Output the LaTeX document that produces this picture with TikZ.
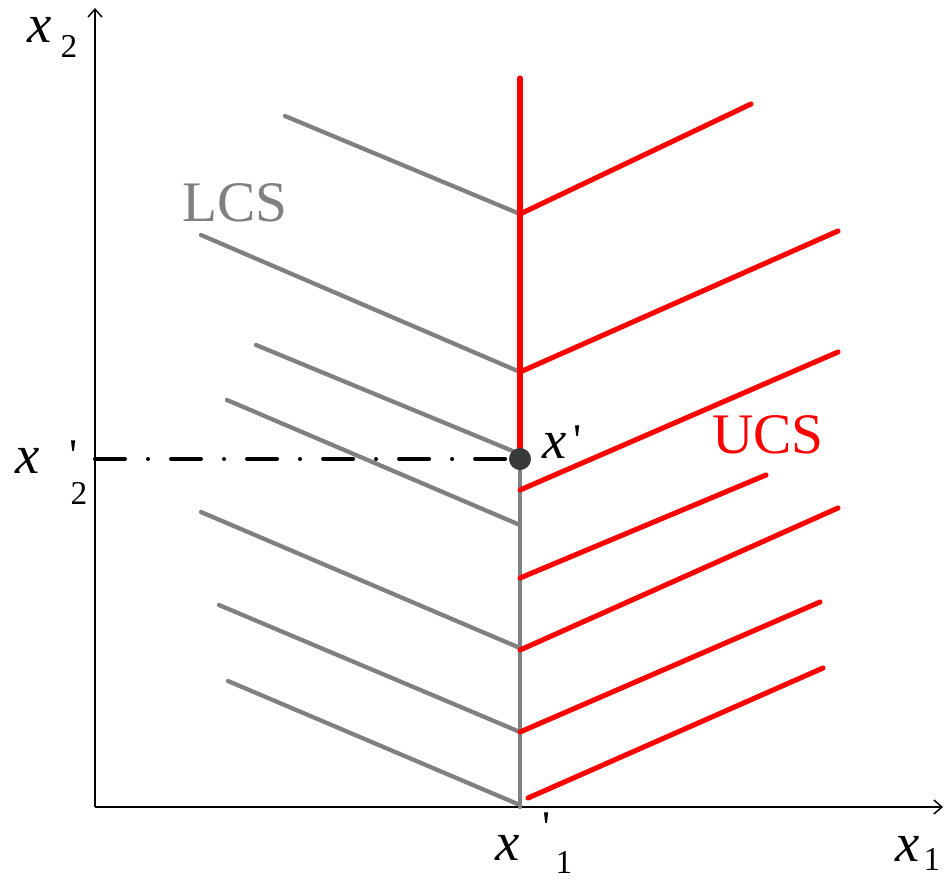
\documentclass[tikz,border=0pt]{standalone}
\usepackage{fontspec}
\setmainfont{Liberation Serif}[Ligatures=TeXOff]
\newfontfamily\pf{Liberation Serif}[Ligatures=TeXOff]
\usetikzlibrary{arrows.meta}
\definecolor{lgray}{RGB}{128,128,128}
\definecolor{dotc}{RGB}{58,58,58}
\tikzset{
  axis/.style={line width=1.1pt, -{Straight Barb[length=6pt,width=10.5pt,line width=1.1pt]}},
  lcs/.style={lgray, line width=3.2pt, line cap=round},
  ucs/.style={red, line width=3.8pt, line cap=round},
  varx/.style={inner sep=0pt, font=\fontsize{41}{41}\selectfont\itshape},
  sub/.style={inner sep=0pt, font=\fontsize{25}{25}\selectfont},
  prm/.style={inner sep=0pt, font=\fontsize{34}{34}\pf\selectfont},
  lbl/.style={inner sep=0pt, font=\fontsize{43}{43}\selectfont},
}
\begin{document}
\begin{tikzpicture}[x=0.75pt,y=-0.75pt]
\useasboundingbox (0,0) rectangle (944,879);
% axes
\coordinate (O) at (95,807);
\coordinate (Ytip) at (95,8);
\coordinate (Xtip) at (943,807);
\draw[axis] (O) -- (Ytip);
\draw[axis] (O) -- (Xtip);
% key coordinates
\coordinate (P) at (520,459);
\coordinate (B) at (520,807);
\coordinate (T) at (520,78);
\coordinate (D0) at (95,459);
% dash-dot
\draw[line width=3pt, line cap=round, dash pattern=on 22.5pt off 17.25pt on 0.01pt off 17.25pt] (D0) -- (P);
% gray lines
\draw[lcs] (P) -- (B);
\draw[lcs] (285,116) -- (520,214);
\draw[lcs] (201,235) -- (520,372);
\draw[lcs] (256,345) -- (520,454);
\draw[lcs] (227,400) -- (520,525);
\draw[lcs] (201,512) -- (520,648);
\draw[lcs] (219,605) -- (520,732);
\draw[lcs] (228,681) -- (520,805);
% red lines
\draw[ucs] (T) -- (P);
\draw[ucs] (520,214) -- (751,104);
\draw[ucs] (520,372) -- (838,231);
\draw[ucs] (520,490) -- (838,352);
\draw[ucs] (520,578) -- (766,475);
\draw[ucs] (520,650) -- (838,508);
\draw[ucs] (520,732) -- (820,602);
\draw[ucs] (528,798) -- (823,668);
% point
\fill[dotc] (P) circle (11);
% labels
\node[varx] (x2) at (40,30) {x};
\node[sub] (x2s) at (69,46) {2};
\node[varx] (xp2) at (28,461) {x};
\node[prm] (xp2p) at (74,456) {\char"27};
\node[sub] (xp2s) at (79,493) {2};
\node[varx] (xp) at (555,446) {x};
\node[prm] (xpp) at (578,441) {\char"27};
\node[varx] (xp1) at (508,848) {x};
\node[prm] (xp1p) at (547,828) {\char"27};
\node[sub] (xp1s) at (564,862) {1};
\node[varx] (x1) at (908,849) {x};
\node[sub] (x1s) at (932,859) {1};
\node[lbl, lgray] (lcsl) at (235,203) {LCS};
\node[lbl, red] (ucsl) at (768,435) {UCS};
\end{tikzpicture}
\end{document}
